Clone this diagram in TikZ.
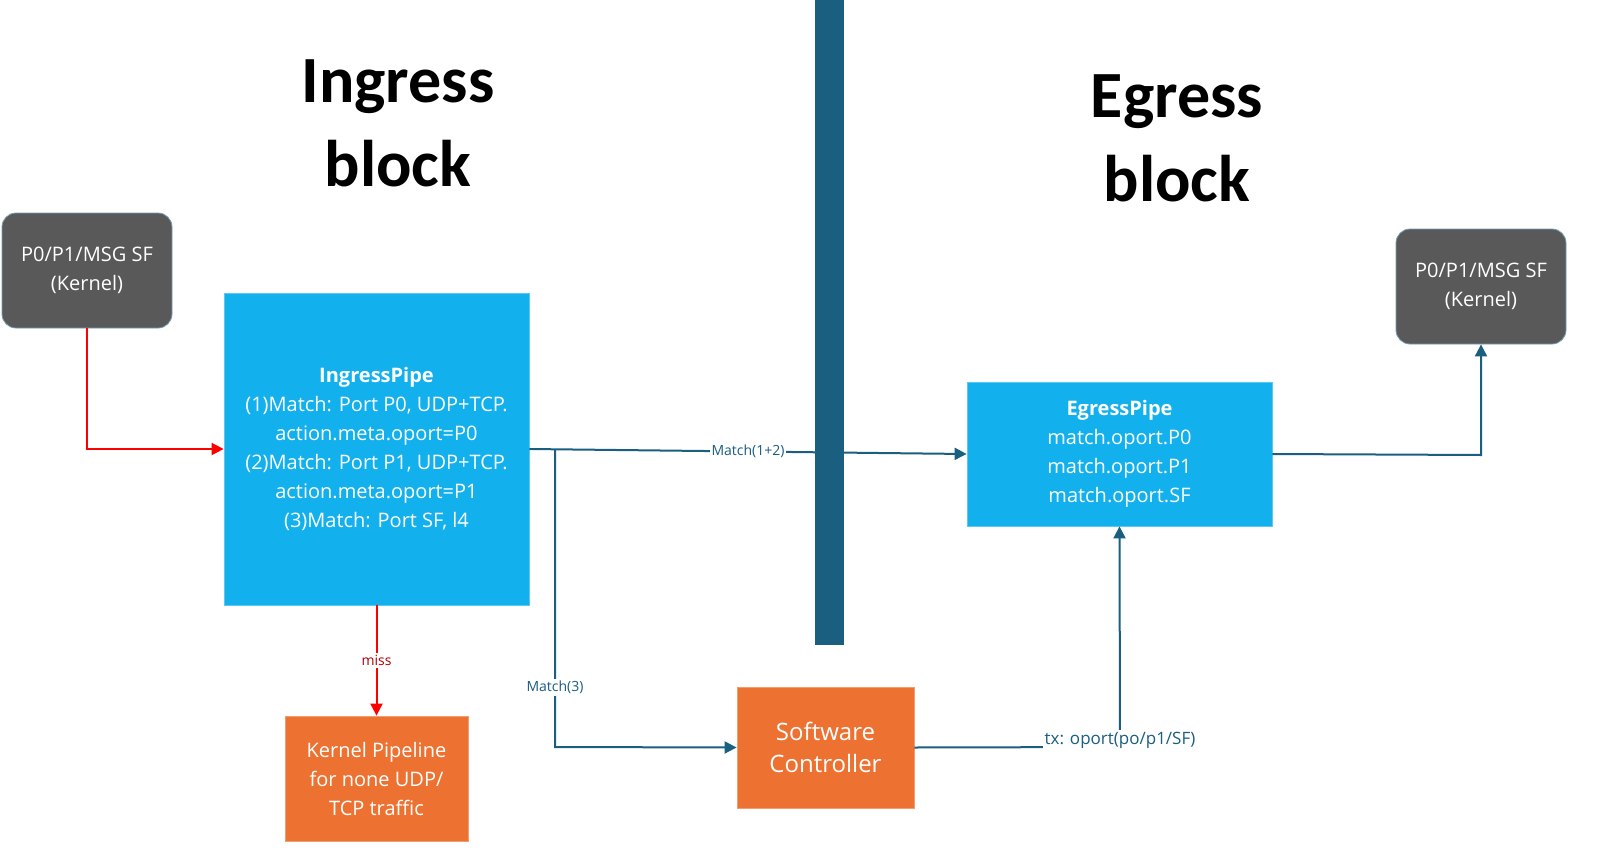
\documentclass[tikz,border=0pt]{standalone}
\usepackage{fontspec}
\setmainfont{Open Sans}
\newfontfamily\titlefont{Carlito}
\usetikzlibrary{arrows.meta}
\definecolor{barc}{HTML}{1A5E80}
\definecolor{pipec}{HTML}{12B0EC}
\definecolor{orc}{HTML}{ED7232}
\definecolor{kc}{HTML}{595959}
\definecolor{kb}{HTML}{7A9CB0}
\tikzset{
 box/.style={draw=#1!70!white, fill=#1, text=white, align=center, inner sep=0pt, font=\fontsize{10}{14.5}\selectfont},
 kbox/.style={draw=kb, fill=kc, rounded corners=7pt, text=white, align=center, font=\fontsize{10}{14.5}\selectfont},
 ttl/.style={font=\titlefont\bfseries\fontsize{33}{42}\selectfont, align=center},
 redl/.style={draw=red, line width=1pt, -{Triangle[length=6pt,width=6pt]}},
 bluel/.style={draw=barc, line width=1pt, -{Triangle[length=6pt,width=6pt]}},
 lbl/.style={fill=white, inner sep=1pt, text=barc, font=\fontsize{7}{8}\selectfont},
}
\begin{document}
\begin{tikzpicture}[x=0.5pt,y=-0.5pt]
\fill[barc] (815,0) rectangle (844,645);
\node[ttl] at (398,123) {Ingress\\block};
\node[ttl] at (1177,138) {Egress\\block};
\node[kbox, minimum width=85pt, minimum height=57.5pt] (kl) at (87,270.5) {P0/P1/MSG SF\\(Kernel)};
\node[kbox, minimum width=85pt, minimum height=57.5pt] (kr) at (1481,286.5) {P0/P1/MSG SF\\(Kernel)};
\node[box=pipec, minimum width=152.5pt, minimum height=156pt] (ip) at (376.5,449) {\textbf{IngressPipe}\\(1)Match: Port P0, UDP+TCP.\\action.meta.oport=P0\\(2)Match: Port P1, UDP+TCP.\\action.meta.oport=P1\\(3)Match: Port SF, l4};
\node[box=pipec, minimum width=152.5pt, minimum height=72pt] (ep) at (1119.5,454) {\textbf{EgressPipe}\\match.oport.P0\\match.oport.P1\\match.oport.SF};
\node[box=orc, minimum width=91.5pt, minimum height=62.5pt] (kp) at (376.5,778.5) {Kernel Pipeline\\for none UDP/\\TCP traffic};
\node[box=orc, minimum width=88.5pt, minimum height=60.5pt, font=\fontsize{12}{16}\selectfont] (sc) at (825.5,747.5) {Software\\Controller};
\draw[redl] (kl.south) |- (ip.west);
\draw[redl] (ip.south) -- node[lbl, text=red!70!black]{miss} (kp.north);
\draw[bluel] (ip.east) -- node[lbl, pos=0.5]{Match(1+2)} (ep.west);
\coordinate (br) at (555,450);
\draw[bluel] (br) -- node[lbl, pos=0.8]{Match(3)} (555,747) -- (sc.west);
\coordinate (tx) at (1120,747);
\draw[bluel] (sc.east) -- (tx) -- (ep.south);
\node[lbl, font=\fontsize{8.5}{10}\selectfont] at (1120,740) {tx: oport(po/p1/SF)};
\draw[bluel] (ep.east) -- (1481,455) -- (kr.south);
\pgfresetboundingbox
\useasboundingbox (0,0) rectangle (1612,867);
\end{tikzpicture}
\end{document}
